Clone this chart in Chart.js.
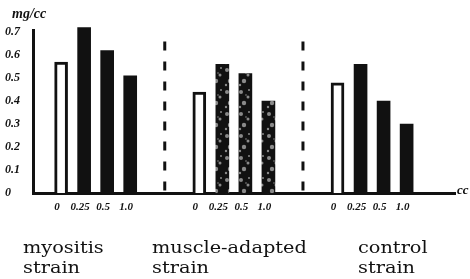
<!DOCTYPE html>
<html>
<head>
<meta charset="utf-8">
<script src="https://cdn.jsdelivr.net/npm/chart.js@4/dist/chart.umd.min.js"></script>
<style>
html, body { margin: 0; padding: 0; background: #fff; }
canvas { display: block; }
</style>
</head>
<body>
<canvas id="chart" width="470" height="279"></canvas>
<script>
// values (mg/cc)
var strains = [['myositis', 'strain'], ['muscle-adapted', 'strain'], ['control', 'strain']];
var doses = ['0', '0.25', '0.5', '1.0'];
var myositis = [0.57, 0.72, 0.62, 0.51];
var muscleAdapted = [0.44, 0.56, 0.52, 0.40];
var control = [0.48, 0.56, 0.40, 0.30];
var yTicks = [0, 0.1, 0.2, 0.3, 0.4, 0.5, 0.6, 0.7];
var yTickLabels = ['0', '0.1', '0.2', '0.3', '0.4', '0.5', '0.6', '0.7'];

var SLOT = 6; // doses per strain + gap
var handFont = { family: 'Liberation Serif', style: 'italic', weight: 'bold', size: 11 };

// speckled fill for the middle group
function mottled() {
    var c = document.createElement('canvas');
    c.width = 14; c.height = 22;
    var g = c.getContext('2d');
    g.fillStyle = '#111';
    g.fillRect(0, 0, 14, 22);
    g.fillStyle = '#8a8a8a';
    [[3, 4, 2], [10, 9, 1.5], [6, 15, 2.2], [2, 19, 1.2], [11, 2, 1], [8, 7, 0.8]].forEach(function (p) {
        g.beginPath(); g.arc(p[0], p[1], p[2], 0, Math.PI * 2); g.fill();
    });
    return g.createPattern(c, 'repeat');
}

var ctx = document.getElementById('chart').getContext('2d');
var speckle = mottled();

function points(vals, g) {
    return vals.map(function (v, d) { return { x: g * SLOT + d, y: v }; });
}
function fills(solid) {
    return doses.map(function (_, d) { return d === 0 ? '#fff' : solid; });
}

var series = [myositis, muscleAdapted, control];
var datasets = series.map(function (vals, g) {
    return {
        label: strains[g].join(' '),
        data: points(vals, g),
        backgroundColor: fills(g === 1 ? speckle : '#111'),
        borderColor: '#111',
        borderWidth: doses.map(function (_, d) { return d === 0 ? 3 : 0; }),
        borderSkipped: 'start',
        barThickness: 13,
        grouped: false,
        clip: false
    };
});

var decor = {
    id: 'decor',
    beforeDatasetsDraw: function (chart) {
        var c = chart.ctx, xs = chart.scales.x, ys = chart.scales.y;
        c.save();
        c.strokeStyle = '#111';
        c.lineWidth = 3;
        c.setLineDash([9, 11]);
        [1, 2].forEach(function (g) {
            var px = xs.getPixelForValue(g * SLOT - 1.5);
            c.beginPath();
            c.moveTo(px, ys.getPixelForValue(0.66));
            c.lineTo(px, ys.getPixelForValue(0));
            c.stroke();
        });
        c.restore();
    },
    afterDraw: function (chart) {
        var c = chart.ctx, area = chart.chartArea;
        c.save();
        c.fillStyle = '#111';
        c.textBaseline = 'alphabetic';
        c.font = 'italic bold 14px "Liberation Serif"';
        c.fillText('mg/cc', 12, 18);
        c.font = 'italic bold 13px "Liberation Serif"';
        c.fillText('cc', area.right + 2, area.bottom + 1);
        c.font = '16.5px "DejaVu Serif"';
        var lx = [23, 152, 358];
        strains.forEach(function (s, g) {
            c.save();
            c.translate(lx[g], 0);
            c.scale(1.17, 1);
            c.fillText(s[0], 0, 253);
            c.fillText(s[1], 0, 273);
            c.restore();
        });
        c.restore();
    }
};

new Chart(ctx, {
    type: 'bar',
    data: { datasets: datasets },
    plugins: [decor],
    options: {
        responsive: false,
        animation: false,
        devicePixelRatio: 1,
        layout: { padding: { top: 30, right: 15, left: 5, bottom: 0 } },
        plugins: { legend: { display: false }, tooltip: { enabled: false } },
        scales: {
            x: {
                type: 'linear',
                offset: false,
                min: -1.22,
                max: 17.1,
                grid: { display: false },
                border: { display: true, width: 3, color: '#111' },
                afterFit: function (s) { s.height = 86; },
                afterBuildTicks: function (s) {
                    var t = [];
                    strains.forEach(function (_, g) {
                        doses.forEach(function (_, d) { t.push({ value: g * SLOT + d }); });
                    });
                    s.ticks = t;
                },
                ticks: {
                    autoSkip: false,
                    maxRotation: 0,
                    padding: 0,
                    labelOffset: -4,
                    color: '#111',
                    font: handFont,
                    callback: function (v) { return doses[((v % SLOT) + SLOT) % SLOT]; }
                }
            },
            y: {
                min: 0,
                max: 0.71,
                grid: { display: false },
                border: { display: true, width: 3, color: '#111' },
                afterFit: function (s) { s.width = 28; },
                afterBuildTicks: function (s) {
                    s.ticks = yTicks.map(function (v) { return { value: v }; });
                },
                ticks: {
                    crossAlign: 'far',
                    padding: 6,
                    color: '#111',
                    font: { family: 'Liberation Serif', style: 'italic', weight: 'bold', size: 12 },
                    callback: function (v) { return yTickLabels[yTicks.indexOf(v)]; }
                }
            }
        }
    }
});
</script>
</body>
</html>
